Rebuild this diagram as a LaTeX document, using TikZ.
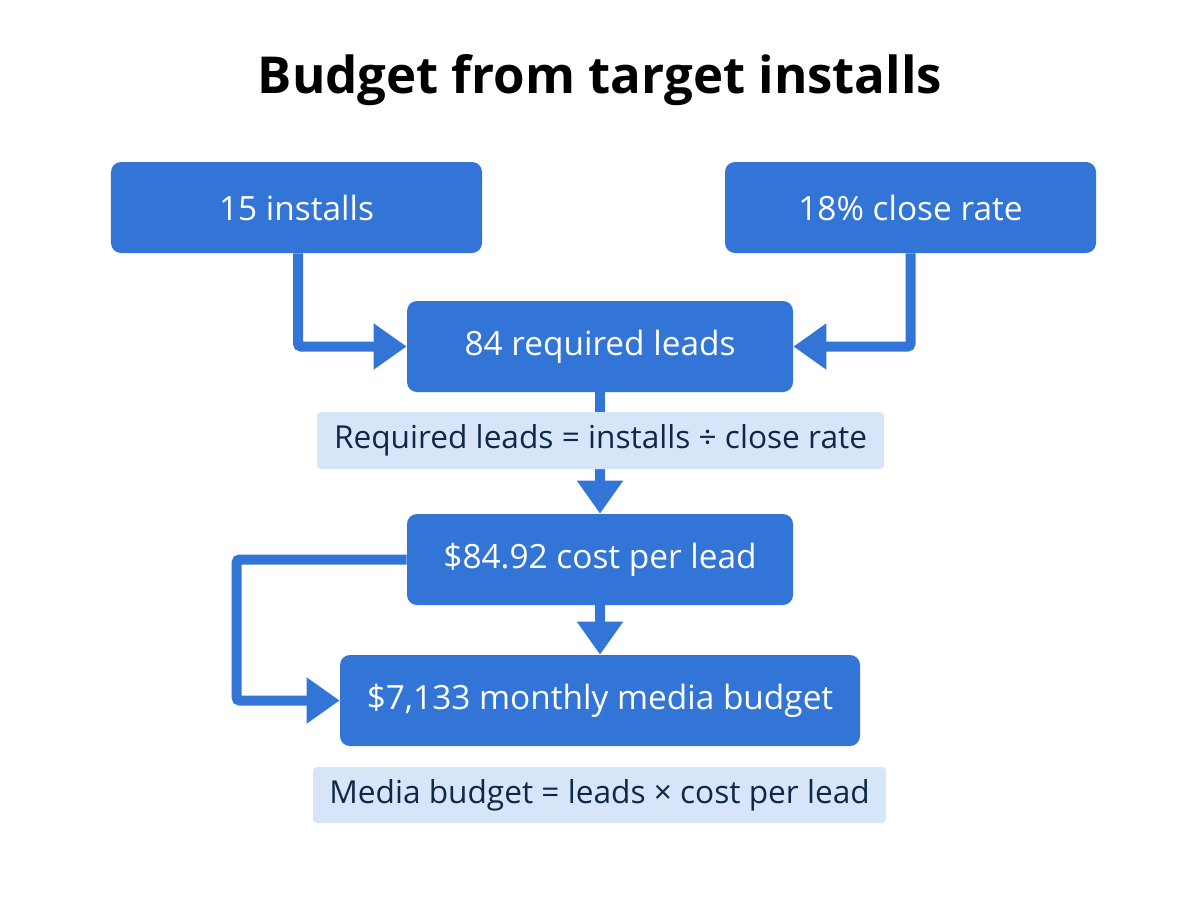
\documentclass[tikz,border=0pt]{standalone}
\usepackage{fontspec}
\setmainfont{Open Sans}
\usetikzlibrary{arrows.meta}
\definecolor{boxblue}{HTML}{3275D6}
\definecolor{notefill}{HTML}{D6E6F8}
\definecolor{notetext}{HTML}{0E2947}
\tikzset{
  stepbox/.style={fill=boxblue, rounded corners=2mm, text=white, minimum height=18.2mm,
    font=\fontsize{19}{23}\selectfont},
  notebox/.style={fill=notefill, rounded corners=0.8mm, text=notetext,
    font=\fontsize{18}{22}\selectfont},
  flow/.style={draw=boxblue, line width=2mm, rounded corners=0.6mm,
    -{Triangle[length=6.6mm,width=8.8mm]}}
}
\begin{document}
\begin{tikzpicture}[x=0.2mm,y=-0.2mm]
      \useasboundingbox[fill=white] (0,0) rectangle (1200,896);

      \node[font=\fontsize{29}{35}\selectfont\bfseries] (title) at (600,80) {Budget from target installs};

      \node[stepbox, minimum width=74.2mm] (installs) at (296.5,207.5) {15 installs};
      \node[stepbox, minimum width=74.2mm] (close) at (910.5,207.5) {18\% close rate};
      \node[stepbox, minimum width=77.2mm] (leads) at (600,346.5) {84 required leads};
      \node[stepbox, minimum width=77.2mm] (cpl) at (600,559.5) {\$84.92 cost per lead};
      \node[stepbox, minimum width=104mm] (budget) at (600,700.5) {\$7,133 monthly media budget};

      \draw[flow] (installs.south -| 298,0) |- (leads.west);
      \draw[flow] (close.south) |- (leads.east);
      \draw[flow] (leads.south) -- (cpl.north);
      \draw[flow] (cpl.south) -- (budget.north);
      \draw[flow] (cpl.west) -- ++(-170,0) |- (budget.west);

      \node[notebox, minimum width=113.4mm, minimum height=11.4mm] (leadsrule) at (600.5,440.5) {Required leads = installs ÷ close rate};
      \node[notebox, minimum width=114.6mm, minimum height=11.2mm] (budgetrule) at (599.5,795) {Media budget = leads × cost per lead};
    \end{tikzpicture}
\end{document}
